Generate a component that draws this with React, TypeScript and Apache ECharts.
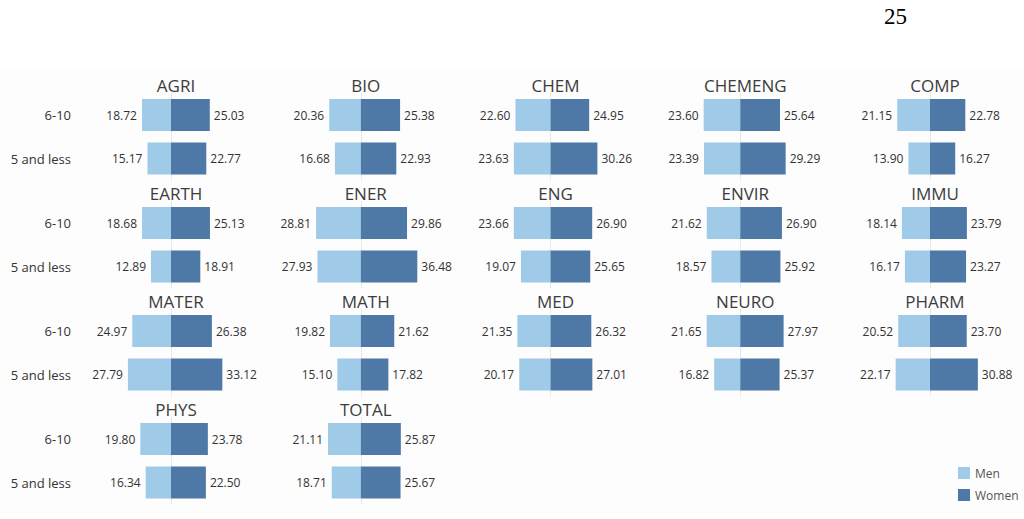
import React, { useEffect, useRef } from "react";
import * as echarts from "echarts";

const fields = ["AGRI", "BIO", "CHEM", "CHEMENG", "COMP", "EARTH", "ENER", "ENG", "ENVIR", "IMMU", "MATER", "MATH", "MED", "NEURO", "PHARM", "PHYS", "TOTAL"];
const groups = ["6-10", "5 and less"];
const men610 = [18.72, 20.36, 22.60, 23.60, 21.15, 18.68, 28.81, 23.66, 21.62, 18.14, 24.97, 19.82, 21.35, 21.65, 20.52, 19.80, 21.11];
const women610 = [25.03, 25.38, 24.95, 25.64, 22.78, 25.13, 29.86, 26.90, 26.90, 23.79, 26.38, 21.62, 26.32, 27.97, 23.70, 23.78, 25.87];
const men5 = [15.17, 16.68, 23.63, 23.39, 13.90, 12.89, 27.93, 19.07, 18.57, 16.17, 27.79, 15.10, 20.17, 16.82, 22.17, 16.34, 18.71];
const women5 = [22.77, 22.93, 30.26, 29.29, 16.27, 18.91, 36.48, 25.65, 25.92, 23.27, 33.12, 17.82, 27.01, 25.37, 30.88, 22.50, 25.67];

const MEN_COLOR = "#a0cbe8";
const WOMEN_COLOR = "#4e79a7";
const FONT = "Open Sans";

export default function App() {
  const ref = useRef<HTMLDivElement>(null);
  useEffect(() => {
    if (!ref.current) return;
    const chart = echarts.init(ref.current, null, { renderer: "svg" });
    const half = 80;
    const pxPerUnit = 1.55;
    const maxV = half / pxPerUnit;
    const grids: any[] = [];
    const xAxes: any[] = [];
    const yAxes: any[] = [];
    const series: any[] = [];
    const titles: any[] = [];
    fields.forEach((f, i) => {
      const col = i % 5;
      const row = Math.floor(i / 5);
      const cx = 171 + 189.75 * col;
      const top = 93.25 + 108 * row;
      grids.push({ left: cx - half, width: half * 2, top, height: 87 });
      xAxes.push({
        gridIndex: i, type: "value", min: -maxV, max: maxV,
        show: false,
      });
      yAxes.push({
        gridIndex: i, type: "category", data: groups, inverse: true,
        axisLine: { show: false }, axisTick: { show: false }, splitLine: { show: false },
        axisLabel: {
          show: col === 0, margin: 20, fontSize: 13, color: "#333", fontFamily: FONT,
        },
      });
      titles.push({
        text: f, left: cx, top: top - 21, textAlign: "center",
        textStyle: { fontSize: 17, fontWeight: "normal", color: "#3c3c3c", fontFamily: FONT },
      });
      series.push({
        name: "zero", type: "line", xAxisIndex: i, yAxisIndex: i, data: [], z: 1,
        markLine: {
          silent: true, symbol: "none", label: { show: false }, z: 1,
          lineStyle: { type: "dotted", color: "#d4d4d4", width: 1 },
          data: [{ xAxis: 0 }],
        },
      });
      series.push({
        name: "Men", type: "bar", xAxisIndex: i, yAxisIndex: i, z: 3,
        data: [-men610[i], -men5[i]], barWidth: 32, barGap: "-100%",
        itemStyle: { color: MEN_COLOR },
        label: {
          show: true, position: "left", distance: 5, fontSize: 12, color: "#333", fontFamily: FONT,
          formatter: (p: any) => Math.abs(p.value).toFixed(2),
        },
      });
      series.push({
        name: "Women", type: "bar", xAxisIndex: i, yAxisIndex: i, z: 3,
        data: [women610[i], women5[i]], barWidth: 32, barGap: "-100%",
        itemStyle: { color: WOMEN_COLOR },
        label: {
          show: true, position: "right", distance: 4, fontSize: 12, color: "#333", fontFamily: FONT,
          formatter: (p: any) => Math.abs(p.value).toFixed(2),
        },
      });
    });
    chart.setOption({
      animation: false,
      backgroundColor: "#ffffff",
      title: titles,
      grid: grids,
      xAxis: xAxes,
      yAxis: yAxes,
      series,
      legend: {
        data: ["Men", "Women"], orient: "vertical", left: 953, top: 462,
        icon: "rect", itemWidth: 12, itemHeight: 12, itemGap: 10,
        textStyle: { fontSize: 12, color: "#555", fontFamily: FONT },
      },
      graphic: [
        { type: "rect", z: -10, silent: true, shape: { x: 0, y: 68, width: 1024, height: 445 }, style: { fill: "#fdfdfd" } },
        { type: "text", left: 884, top: 5, style: { text: "25", font: '23px "Liberation Serif", "Times New Roman", serif', fill: "#000" } },
      ],
    });
    return () => chart.dispose();
  }, []);
  return <div ref={ref} style={{ position: "fixed", left: 0, top: 0, width: 1024, height: 519 }} />;
}
